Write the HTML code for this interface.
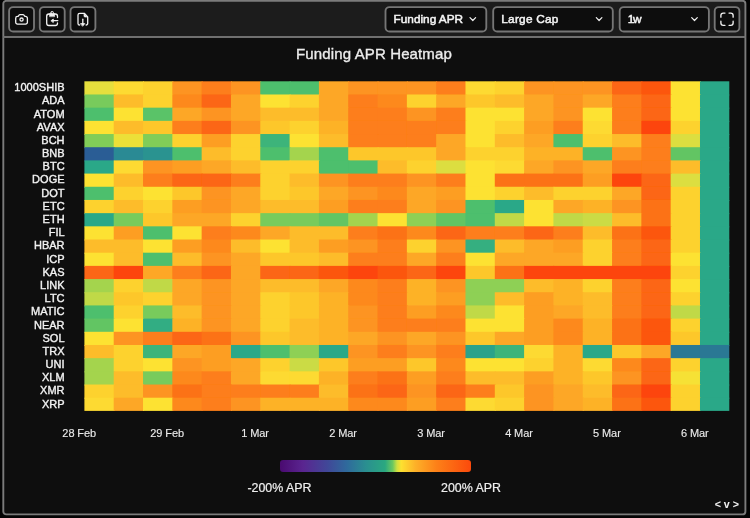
<!DOCTYPE html>
<html lang="en">
<head>
<meta charset="utf-8">
<title>Funding APR Heatmap</title>
<style>
html,body{margin:0;padding:0;}
body{width:750px;height:518px;background:#040404;overflow:hidden;position:relative;font-family:"Liberation Sans",sans-serif;color:#eee;}
.sel{position:absolute;top:6.2px;height:26px;}
.sel span{position:absolute;left:9px;top:0;line-height:26.6px;font-size:11.8px;color:#f4f4f4;letter-spacing:-0.1px;-webkit-text-stroke:0.5px #f4f4f4;white-space:nowrap;}
.title{position:absolute;left:174px;width:400px;top:44.100px;text-align:center;font-size:15px;line-height:20px;color:#ececec;white-space:nowrap;-webkit-text-stroke:0.35px #ececec;letter-spacing:0.13px;}
.yl{position:absolute;left:0;width:64.6px;text-align:right;font-size:11px;line-height:14px;color:#f2f2f2;white-space:nowrap;-webkit-text-stroke:0.38px #f2f2f2;letter-spacing:0.02px;}
.xl{position:absolute;width:60px;text-align:center;top:425.600px;font-size:11px;line-height:14px;color:#ebebeb;white-space:nowrap;letter-spacing:-0.1px;-webkit-text-stroke:0.12px #ebebeb;}
.hm{position:absolute;left:0;top:0;}
.txt{position:absolute;left:0;top:0;width:750px;height:518px;will-change:transform;}
.legend{position:absolute;left:279.8px;top:460.4px;width:191.4px;height:11.8px;border-radius:3px;background:linear-gradient(90deg,#4a0a70 0%,#5a2590 12%,#404898 25%,#2f6a9c 35%,#2a8f90 45%,#2aa880 55%,#6cc860 59%,#d0e040 61.3%,#fde030 63.5%,#fdb028 71%,#fd8018 82%,#fb4a0c 100%);}
.ll{position:absolute;top:480.100px;font-size:12.4px;line-height:16px;color:#efefef;white-space:nowrap;-webkit-text-stroke:0.2px #efefef;}
.sig{position:absolute;left:714.7px;top:497.200px;font-size:10.7px;line-height:14px;font-weight:bold;color:#f0f0f0;letter-spacing:2.9px;white-space:nowrap;}
</style>
</head>
<body>
<svg class="hm" width="750" height="518" viewBox="0 0 750 518" fill="none">
<rect x="3.3" y="0.8" width="742.1" height="513.6" rx="3" fill="#0e0e0e"/>
<path d="M3.3 37V3.800a3 3 0 0 1 3-3h736.100a3 3 0 0 1 3 3V37z" fill="#1c1c1c"/>
<rect x="3.3" y="0.8" width="742.1" height="513.6" rx="3" stroke="#7b7b7b" stroke-width="1.9"/>
<path d="M3.300 37.050H745.400" stroke="#707070" stroke-width="1.9"/>
<g stroke="#767676" stroke-width="1.85" fill="#0d0d0d">
<rect x="9.1" y="7.050" width="24.900" height="24.400" rx="4"/>
<rect x="39.8" y="7.050" width="24.900" height="24.400" rx="4"/>
<rect x="70.5" y="7.050" width="24.900" height="24.400" rx="4"/>
<rect x="385.500" y="7.050" width="100.800" height="24.400" rx="4"/>
<rect x="493.200" y="7.050" width="119.600" height="24.400" rx="4"/>
<rect x="619.700" y="7.050" width="89.200" height="24.400" rx="4"/>
<rect x="714.700" y="7.050" width="24.700" height="24.400" rx="4"/>
</g>
<g stroke="#f2f2f2" stroke-linecap="round" stroke-linejoin="round">
<g stroke-width="1.300"><path d="M17.500 16.400H18.100L19.300 14.900a.8 .8 0 0 1 .6-.3H23.100a.8 .8 0 0 1 .6 .3L24.900 16.400H25.600a1.800 1.800 0 0 1 1.800 1.800V22.300a1.800 1.800 0 0 1-1.800 1.800H17.500a1.800 1.800 0 0 1-1.800-1.800V18.200a1.800 1.800 0 0 1 1.800-1.800z"/><circle cx="21.550" cy="19.600" r="1.600"/></g>
<g stroke-width="1.300"><path d="M57.500 17.600V16.200a2.200 2.200 0 0 0-2.200-2.200H48.900a2.200 2.200 0 0 0-2.200 2.200V23.300a2.200 2.200 0 0 0 2.200 2.200H55.300a2.200 2.200 0 0 0 2.200-2.200V22.900"/><path d="M49.600 16.300V13.700H50.700V12.800a1.400 1.400 0 0 1 2.800 0V13.700H54.600V16.300z" fill="#f2f2f2" stroke-width="0.700"/><circle cx="52.100" cy="12.700" r="0.300" fill="#0d0d0d" stroke="#0d0d0d" stroke-width="0.500"/><path d="M57.800 20.600H52.200"/><path d="M51.200 20.600L53.300 19V22.200z" fill="#f2f2f2" stroke-width="0.800"/></g>
<g stroke-width="1.300"><path d="M79.600 25a1.600 1.600 0 0 1-1.600-1.600V15.100a1.800 1.800 0 0 1 1.800-1.800H84.300L87.700 16.900V23.400a1.600 1.600 0 0 1-1.600 1.600"/><path d="M84 13.800v2.200a1 1 0 0 0 1 1h2.200z" fill="#f2f2f2" stroke-width="0.700"/><path d="M82.800 19.200V24.400"/><path d="M80.800 23.600H84.800L82.800 26z" fill="#f2f2f2" stroke-width="0.800"/></g>
<g transform="translate(718.850,11.050) scale(0.68)" stroke-width="2"><path d="M9 3H6.500a3.500 3.500 0 0 0-3.500 3.500V9"/><path d="M21 9V6.500a3.500 3.500 0 0 0-3.500-3.500H15"/><path d="M3 15v2.500a3.500 3.500 0 0 0 3.500 3.500H9"/><path d="M15 21h2.500a3.500 3.500 0 0 0 3.500-3.500V15"/></g>
<g stroke-width="1.200"><path d="M470 17.700l2.800 2.800 2.800-2.800"/><path d="M596.300 17.700l2.800 2.800 2.800-2.800"/><path d="M691.700 17.700l2.800 2.800 2.800-2.800"/></g>
</g>
</svg>
<div class="txt">
<div class="sel" style="left:384.6px"><span style="letter-spacing:0px">Funding APR</span></div>
<div class="sel" style="left:492.3px"><span style="letter-spacing:0.25px">Large Cap</span></div>
<div class="sel" style="left:618.8px"><span style="letter-spacing:-1.3px">1w</span></div>

<div class="title">Funding APR Heatmap</div>

<svg class="hm" width="750" height="518" viewBox="0 0 750 518">
<defs><filter id="soft" x="-1%" y="-1%" width="102%" height="102%"><feGaussianBlur stdDeviation="0.45"/></filter></defs>
<g filter="url(#soft)">
<rect x="84.40" y="81.30" width="30.31" height="14.18" fill="#e6df3c"/>
<rect x="113.71" y="81.30" width="30.31" height="14.18" fill="#fdda30"/>
<rect x="143.03" y="81.30" width="30.31" height="14.18" fill="#fdd22e"/>
<rect x="172.34" y="81.30" width="30.31" height="14.18" fill="#fd9420"/>
<rect x="201.65" y="81.30" width="30.31" height="14.18" fill="#fd7e1a"/>
<rect x="230.97" y="81.30" width="30.31" height="14.18" fill="#fd9420"/>
<rect x="260.28" y="81.30" width="30.31" height="14.18" fill="#4dbf6d"/>
<rect x="289.60" y="81.30" width="30.31" height="14.18" fill="#4dbf6d"/>
<rect x="318.91" y="81.30" width="30.31" height="14.18" fill="#fda726"/>
<rect x="348.22" y="81.30" width="30.31" height="14.18" fill="#fd9420"/>
<rect x="377.54" y="81.30" width="30.31" height="14.18" fill="#fd9420"/>
<rect x="406.85" y="81.30" width="30.31" height="14.18" fill="#fd9420"/>
<rect x="436.16" y="81.30" width="30.31" height="14.18" fill="#fd7e1a"/>
<rect x="465.48" y="81.30" width="30.31" height="14.18" fill="#fdda30"/>
<rect x="494.79" y="81.30" width="30.31" height="14.18" fill="#fdd22e"/>
<rect x="524.10" y="81.30" width="30.31" height="14.18" fill="#fd9420"/>
<rect x="553.42" y="81.30" width="30.31" height="14.18" fill="#fd9420"/>
<rect x="582.73" y="81.30" width="30.31" height="14.18" fill="#fd9420"/>
<rect x="612.05" y="81.30" width="30.31" height="14.18" fill="#fc6612"/>
<rect x="641.36" y="81.30" width="30.31" height="14.18" fill="#fc560e"/>
<rect x="670.67" y="81.30" width="30.31" height="14.18" fill="#fde232"/>
<rect x="699.99" y="81.30" width="29.31" height="14.18" fill="#2aa888"/>
<rect x="84.40" y="94.48" width="30.31" height="14.18" fill="#78cb5c"/>
<rect x="113.71" y="94.48" width="30.31" height="14.18" fill="#fdbc2a"/>
<rect x="143.03" y="94.48" width="30.31" height="14.18" fill="#fdd22e"/>
<rect x="172.34" y="94.48" width="30.31" height="14.18" fill="#fd891d"/>
<rect x="201.65" y="94.48" width="30.31" height="14.18" fill="#fc6612"/>
<rect x="230.97" y="94.48" width="30.31" height="14.18" fill="#fda726"/>
<rect x="260.28" y="94.48" width="30.31" height="14.18" fill="#fde232"/>
<rect x="289.60" y="94.48" width="30.31" height="14.18" fill="#fdd22e"/>
<rect x="318.91" y="94.48" width="30.31" height="14.18" fill="#fda726"/>
<rect x="348.22" y="94.48" width="30.31" height="14.18" fill="#fd7e1a"/>
<rect x="377.54" y="94.48" width="30.31" height="14.18" fill="#fd891d"/>
<rect x="406.85" y="94.48" width="30.31" height="14.18" fill="#fdd22e"/>
<rect x="436.16" y="94.48" width="30.31" height="14.18" fill="#fda726"/>
<rect x="465.48" y="94.48" width="30.31" height="14.18" fill="#fdc72c"/>
<rect x="494.79" y="94.48" width="30.31" height="14.18" fill="#fdbc2a"/>
<rect x="524.10" y="94.48" width="30.31" height="14.18" fill="#fda726"/>
<rect x="553.42" y="94.48" width="30.31" height="14.18" fill="#fd9420"/>
<rect x="582.73" y="94.48" width="30.31" height="14.18" fill="#fda726"/>
<rect x="612.05" y="94.48" width="30.31" height="14.18" fill="#fd7e1a"/>
<rect x="641.36" y="94.48" width="30.31" height="14.18" fill="#fc6612"/>
<rect x="670.67" y="94.48" width="30.31" height="14.18" fill="#fde232"/>
<rect x="699.99" y="94.48" width="29.31" height="14.18" fill="#2aa888"/>
<rect x="84.40" y="107.67" width="30.31" height="14.18" fill="#4dbf6d"/>
<rect x="113.71" y="107.67" width="30.31" height="14.18" fill="#fde232"/>
<rect x="143.03" y="107.67" width="30.31" height="14.18" fill="#5ac368"/>
<rect x="172.34" y="107.67" width="30.31" height="14.18" fill="#fda726"/>
<rect x="201.65" y="107.67" width="30.31" height="14.18" fill="#fd9420"/>
<rect x="230.97" y="107.67" width="30.31" height="14.18" fill="#fda726"/>
<rect x="260.28" y="107.67" width="30.31" height="14.18" fill="#fdbc2a"/>
<rect x="289.60" y="107.67" width="30.31" height="14.18" fill="#fdbc2a"/>
<rect x="318.91" y="107.67" width="30.31" height="14.18" fill="#fda726"/>
<rect x="348.22" y="107.67" width="30.31" height="14.18" fill="#fd7e1a"/>
<rect x="377.54" y="107.67" width="30.31" height="14.18" fill="#fd7e1a"/>
<rect x="406.85" y="107.67" width="30.31" height="14.18" fill="#fd9420"/>
<rect x="436.16" y="107.67" width="30.31" height="14.18" fill="#fd7e1a"/>
<rect x="465.48" y="107.67" width="30.31" height="14.18" fill="#fde232"/>
<rect x="494.79" y="107.67" width="30.31" height="14.18" fill="#fde232"/>
<rect x="524.10" y="107.67" width="30.31" height="14.18" fill="#fda726"/>
<rect x="553.42" y="107.67" width="30.31" height="14.18" fill="#fd9420"/>
<rect x="582.73" y="107.67" width="30.31" height="14.18" fill="#fde232"/>
<rect x="612.05" y="107.67" width="30.31" height="14.18" fill="#fd7e1a"/>
<rect x="641.36" y="107.67" width="30.31" height="14.18" fill="#fc6612"/>
<rect x="670.67" y="107.67" width="30.31" height="14.18" fill="#fde232"/>
<rect x="699.99" y="107.67" width="29.31" height="14.18" fill="#2aa888"/>
<rect x="84.40" y="120.85" width="30.31" height="14.18" fill="#fde232"/>
<rect x="113.71" y="120.85" width="30.31" height="14.18" fill="#fdbc2a"/>
<rect x="143.03" y="120.85" width="30.31" height="14.18" fill="#fdc72c"/>
<rect x="172.34" y="120.85" width="30.31" height="14.18" fill="#fd7e1a"/>
<rect x="201.65" y="120.85" width="30.31" height="14.18" fill="#fc6612"/>
<rect x="230.97" y="120.85" width="30.31" height="14.18" fill="#fd9420"/>
<rect x="260.28" y="120.85" width="30.31" height="14.18" fill="#fdc72c"/>
<rect x="289.60" y="120.85" width="30.31" height="14.18" fill="#fdd22e"/>
<rect x="318.91" y="120.85" width="30.31" height="14.18" fill="#fdb228"/>
<rect x="348.22" y="120.85" width="30.31" height="14.18" fill="#fd7e1a"/>
<rect x="377.54" y="120.85" width="30.31" height="14.18" fill="#fd7e1a"/>
<rect x="406.85" y="120.85" width="30.31" height="14.18" fill="#fd7e1a"/>
<rect x="436.16" y="120.85" width="30.31" height="14.18" fill="#fd7e1a"/>
<rect x="465.48" y="120.85" width="30.31" height="14.18" fill="#fde232"/>
<rect x="494.79" y="120.85" width="30.31" height="14.18" fill="#fdd22e"/>
<rect x="524.10" y="120.85" width="30.31" height="14.18" fill="#fd9e23"/>
<rect x="553.42" y="120.85" width="30.31" height="14.18" fill="#fd7e1a"/>
<rect x="582.73" y="120.85" width="30.31" height="14.18" fill="#fdda30"/>
<rect x="612.05" y="120.85" width="30.31" height="14.18" fill="#fd7e1a"/>
<rect x="641.36" y="120.85" width="30.31" height="14.18" fill="#fd450a"/>
<rect x="670.67" y="120.85" width="30.31" height="14.18" fill="#fdd22e"/>
<rect x="699.99" y="120.85" width="29.31" height="14.18" fill="#2aa888"/>
<rect x="84.40" y="134.04" width="30.31" height="14.18" fill="#81cd59"/>
<rect x="113.71" y="134.04" width="30.31" height="14.18" fill="#ece039"/>
<rect x="143.03" y="134.04" width="30.31" height="14.18" fill="#81cd59"/>
<rect x="172.34" y="134.04" width="30.31" height="14.18" fill="#fdd22e"/>
<rect x="201.65" y="134.04" width="30.31" height="14.18" fill="#fd9e23"/>
<rect x="230.97" y="134.04" width="30.31" height="14.18" fill="#fdd22e"/>
<rect x="260.28" y="134.04" width="30.31" height="14.18" fill="#3cb47a"/>
<rect x="289.60" y="134.04" width="30.31" height="14.18" fill="#fde232"/>
<rect x="318.91" y="134.04" width="30.31" height="14.18" fill="#fdbc2a"/>
<rect x="348.22" y="134.04" width="30.31" height="14.18" fill="#fd7e1a"/>
<rect x="377.54" y="134.04" width="30.31" height="14.18" fill="#fd7e1a"/>
<rect x="406.85" y="134.04" width="30.31" height="14.18" fill="#fd7e1a"/>
<rect x="436.16" y="134.04" width="30.31" height="14.18" fill="#fda726"/>
<rect x="465.48" y="134.04" width="30.31" height="14.18" fill="#fde232"/>
<rect x="494.79" y="134.04" width="30.31" height="14.18" fill="#fdbc2a"/>
<rect x="524.10" y="134.04" width="30.31" height="14.18" fill="#fda726"/>
<rect x="553.42" y="134.04" width="30.31" height="14.18" fill="#4dbf6d"/>
<rect x="582.73" y="134.04" width="30.31" height="14.18" fill="#fdd22e"/>
<rect x="612.05" y="134.04" width="30.31" height="14.18" fill="#fdbc2a"/>
<rect x="641.36" y="134.04" width="30.31" height="14.18" fill="#fd7e1a"/>
<rect x="670.67" y="134.04" width="30.31" height="14.18" fill="#dcde40"/>
<rect x="699.99" y="134.04" width="29.31" height="14.18" fill="#2aa888"/>
<rect x="84.40" y="147.22" width="30.31" height="14.18" fill="#2c5d95"/>
<rect x="113.71" y="147.22" width="30.31" height="14.18" fill="#2a8a94"/>
<rect x="143.03" y="147.22" width="30.31" height="14.18" fill="#2a9390"/>
<rect x="172.34" y="147.22" width="30.31" height="14.18" fill="#4dbf6d"/>
<rect x="201.65" y="147.22" width="30.31" height="14.18" fill="#fdbc2a"/>
<rect x="230.97" y="147.22" width="30.31" height="14.18" fill="#fdd22e"/>
<rect x="260.28" y="147.22" width="30.31" height="14.18" fill="#4dbf6d"/>
<rect x="289.60" y="147.22" width="30.31" height="14.18" fill="#a4d44e"/>
<rect x="318.91" y="147.22" width="30.31" height="14.18" fill="#4dbf6d"/>
<rect x="348.22" y="147.22" width="30.31" height="14.18" fill="#fdc72c"/>
<rect x="377.54" y="147.22" width="30.31" height="14.18" fill="#fdc72c"/>
<rect x="406.85" y="147.22" width="30.31" height="14.18" fill="#fdc72c"/>
<rect x="436.16" y="147.22" width="30.31" height="14.18" fill="#fda726"/>
<rect x="465.48" y="147.22" width="30.31" height="14.18" fill="#fdd22e"/>
<rect x="494.79" y="147.22" width="30.31" height="14.18" fill="#fdd22e"/>
<rect x="524.10" y="147.22" width="30.31" height="14.18" fill="#fdb228"/>
<rect x="553.42" y="147.22" width="30.31" height="14.18" fill="#fdb228"/>
<rect x="582.73" y="147.22" width="30.31" height="14.18" fill="#4dbf6d"/>
<rect x="612.05" y="147.22" width="30.31" height="14.18" fill="#fd9420"/>
<rect x="641.36" y="147.22" width="30.31" height="14.18" fill="#fd7e1a"/>
<rect x="670.67" y="147.22" width="30.31" height="14.18" fill="#62c564"/>
<rect x="699.99" y="147.22" width="29.31" height="14.18" fill="#2aa888"/>
<rect x="84.40" y="160.40" width="30.31" height="14.18" fill="#2aa888"/>
<rect x="113.71" y="160.40" width="30.31" height="14.18" fill="#fdda30"/>
<rect x="143.03" y="160.40" width="30.31" height="14.18" fill="#fd9420"/>
<rect x="172.34" y="160.40" width="30.31" height="14.18" fill="#fd9e23"/>
<rect x="201.65" y="160.40" width="30.31" height="14.18" fill="#fda726"/>
<rect x="230.97" y="160.40" width="30.31" height="14.18" fill="#fdbc2a"/>
<rect x="260.28" y="160.40" width="30.31" height="14.18" fill="#fdd22e"/>
<rect x="289.60" y="160.40" width="30.31" height="14.18" fill="#fdd22e"/>
<rect x="318.91" y="160.40" width="30.31" height="14.18" fill="#4dbf6d"/>
<rect x="348.22" y="160.40" width="30.31" height="14.18" fill="#4dbf6d"/>
<rect x="377.54" y="160.40" width="30.31" height="14.18" fill="#fdbc2a"/>
<rect x="406.85" y="160.40" width="30.31" height="14.18" fill="#fdd22e"/>
<rect x="436.16" y="160.40" width="30.31" height="14.18" fill="#dcde40"/>
<rect x="465.48" y="160.40" width="30.31" height="14.18" fill="#fde232"/>
<rect x="494.79" y="160.40" width="30.31" height="14.18" fill="#fdda30"/>
<rect x="524.10" y="160.40" width="30.31" height="14.18" fill="#fda726"/>
<rect x="553.42" y="160.40" width="30.31" height="14.18" fill="#fd9420"/>
<rect x="582.73" y="160.40" width="30.31" height="14.18" fill="#fda726"/>
<rect x="612.05" y="160.40" width="30.31" height="14.18" fill="#fd7e1a"/>
<rect x="641.36" y="160.40" width="30.31" height="14.18" fill="#fd7e1a"/>
<rect x="670.67" y="160.40" width="30.31" height="14.18" fill="#fdbc2a"/>
<rect x="699.99" y="160.40" width="29.31" height="14.18" fill="#2aa888"/>
<rect x="84.40" y="173.59" width="30.31" height="14.18" fill="#fde232"/>
<rect x="113.71" y="173.59" width="30.31" height="14.18" fill="#fdbc2a"/>
<rect x="143.03" y="173.59" width="30.31" height="14.18" fill="#fd7e1a"/>
<rect x="172.34" y="173.59" width="30.31" height="14.18" fill="#fc6612"/>
<rect x="201.65" y="173.59" width="30.31" height="14.18" fill="#fc6612"/>
<rect x="230.97" y="173.59" width="30.31" height="14.18" fill="#fd7e1a"/>
<rect x="260.28" y="173.59" width="30.31" height="14.18" fill="#fdd22e"/>
<rect x="289.60" y="173.59" width="30.31" height="14.18" fill="#fdbc2a"/>
<rect x="318.91" y="173.59" width="30.31" height="14.18" fill="#fd9420"/>
<rect x="348.22" y="173.59" width="30.31" height="14.18" fill="#fd7e1a"/>
<rect x="377.54" y="173.59" width="30.31" height="14.18" fill="#fd7e1a"/>
<rect x="406.85" y="173.59" width="30.31" height="14.18" fill="#fd9420"/>
<rect x="436.16" y="173.59" width="30.31" height="14.18" fill="#fd7e1a"/>
<rect x="465.48" y="173.59" width="30.31" height="14.18" fill="#fde232"/>
<rect x="494.79" y="173.59" width="30.31" height="14.18" fill="#fc7216"/>
<rect x="524.10" y="173.59" width="30.31" height="14.18" fill="#fc7216"/>
<rect x="553.42" y="173.59" width="30.31" height="14.18" fill="#fc7216"/>
<rect x="582.73" y="173.59" width="30.31" height="14.18" fill="#fd9e23"/>
<rect x="612.05" y="173.59" width="30.31" height="14.18" fill="#fd450a"/>
<rect x="641.36" y="173.59" width="30.31" height="14.18" fill="#fc6612"/>
<rect x="670.67" y="173.59" width="30.31" height="14.18" fill="#dcde40"/>
<rect x="699.99" y="173.59" width="29.31" height="14.18" fill="#2aa888"/>
<rect x="84.40" y="186.77" width="30.31" height="14.18" fill="#4dbf6d"/>
<rect x="113.71" y="186.77" width="30.31" height="14.18" fill="#fdd22e"/>
<rect x="143.03" y="186.77" width="30.31" height="14.18" fill="#fde232"/>
<rect x="172.34" y="186.77" width="30.31" height="14.18" fill="#fdc72c"/>
<rect x="201.65" y="186.77" width="30.31" height="14.18" fill="#fd9420"/>
<rect x="230.97" y="186.77" width="30.31" height="14.18" fill="#fda726"/>
<rect x="260.28" y="186.77" width="30.31" height="14.18" fill="#fdd22e"/>
<rect x="289.60" y="186.77" width="30.31" height="14.18" fill="#fdc72c"/>
<rect x="318.91" y="186.77" width="30.31" height="14.18" fill="#fda726"/>
<rect x="348.22" y="186.77" width="30.31" height="14.18" fill="#fd9420"/>
<rect x="377.54" y="186.77" width="30.31" height="14.18" fill="#fd891d"/>
<rect x="406.85" y="186.77" width="30.31" height="14.18" fill="#fda726"/>
<rect x="436.16" y="186.77" width="30.31" height="14.18" fill="#fd9e23"/>
<rect x="465.48" y="186.77" width="30.31" height="14.18" fill="#fde232"/>
<rect x="494.79" y="186.77" width="30.31" height="14.18" fill="#fdd22e"/>
<rect x="524.10" y="186.77" width="30.31" height="14.18" fill="#fdbc2a"/>
<rect x="553.42" y="186.77" width="30.31" height="14.18" fill="#fdd22e"/>
<rect x="582.73" y="186.77" width="30.31" height="14.18" fill="#fdd22e"/>
<rect x="612.05" y="186.77" width="30.31" height="14.18" fill="#fda726"/>
<rect x="641.36" y="186.77" width="30.31" height="14.18" fill="#fc6612"/>
<rect x="670.67" y="186.77" width="30.31" height="14.18" fill="#fdd22e"/>
<rect x="699.99" y="186.77" width="29.31" height="14.18" fill="#2aa888"/>
<rect x="84.40" y="199.96" width="30.31" height="14.18" fill="#fdd22e"/>
<rect x="113.71" y="199.96" width="30.31" height="14.18" fill="#fdbc2a"/>
<rect x="143.03" y="199.96" width="30.31" height="14.18" fill="#fdd22e"/>
<rect x="172.34" y="199.96" width="30.31" height="14.18" fill="#fd9e23"/>
<rect x="201.65" y="199.96" width="30.31" height="14.18" fill="#fd9420"/>
<rect x="230.97" y="199.96" width="30.31" height="14.18" fill="#fda726"/>
<rect x="260.28" y="199.96" width="30.31" height="14.18" fill="#fdbc2a"/>
<rect x="289.60" y="199.96" width="30.31" height="14.18" fill="#fdbc2a"/>
<rect x="318.91" y="199.96" width="30.31" height="14.18" fill="#fd9e23"/>
<rect x="348.22" y="199.96" width="30.31" height="14.18" fill="#fd7e1a"/>
<rect x="377.54" y="199.96" width="30.31" height="14.18" fill="#fd7e1a"/>
<rect x="406.85" y="199.96" width="30.31" height="14.18" fill="#fda726"/>
<rect x="436.16" y="199.96" width="30.31" height="14.18" fill="#fd9420"/>
<rect x="465.48" y="199.96" width="30.31" height="14.18" fill="#4dbf6d"/>
<rect x="494.79" y="199.96" width="30.31" height="14.18" fill="#2aa888"/>
<rect x="524.10" y="199.96" width="30.31" height="14.18" fill="#fde232"/>
<rect x="553.42" y="199.96" width="30.31" height="14.18" fill="#fda726"/>
<rect x="582.73" y="199.96" width="30.31" height="14.18" fill="#fdb228"/>
<rect x="612.05" y="199.96" width="30.31" height="14.18" fill="#fd9420"/>
<rect x="641.36" y="199.96" width="30.31" height="14.18" fill="#fc7216"/>
<rect x="670.67" y="199.96" width="30.31" height="14.18" fill="#fdd22e"/>
<rect x="699.99" y="199.96" width="29.31" height="14.18" fill="#2aa888"/>
<rect x="84.40" y="213.14" width="30.31" height="14.18" fill="#2aa888"/>
<rect x="113.71" y="213.14" width="30.31" height="14.18" fill="#78cb5c"/>
<rect x="143.03" y="213.14" width="30.31" height="14.18" fill="#fdc72c"/>
<rect x="172.34" y="213.14" width="30.31" height="14.18" fill="#fda726"/>
<rect x="201.65" y="213.14" width="30.31" height="14.18" fill="#fda726"/>
<rect x="230.97" y="213.14" width="30.31" height="14.18" fill="#fdd22e"/>
<rect x="260.28" y="213.14" width="30.31" height="14.18" fill="#78cb5c"/>
<rect x="289.60" y="213.14" width="30.31" height="14.18" fill="#78cb5c"/>
<rect x="318.91" y="213.14" width="30.31" height="14.18" fill="#62c564"/>
<rect x="348.22" y="213.14" width="30.31" height="14.18" fill="#a4d44e"/>
<rect x="377.54" y="213.14" width="30.31" height="14.18" fill="#fde232"/>
<rect x="406.85" y="213.14" width="30.31" height="14.18" fill="#8ed055"/>
<rect x="436.16" y="213.14" width="30.31" height="14.18" fill="#62c564"/>
<rect x="465.48" y="213.14" width="30.31" height="14.18" fill="#4dbf6d"/>
<rect x="494.79" y="213.14" width="30.31" height="14.18" fill="#c0d947"/>
<rect x="524.10" y="213.14" width="30.31" height="14.18" fill="#fde232"/>
<rect x="553.42" y="213.14" width="30.31" height="14.18" fill="#c0d947"/>
<rect x="582.73" y="213.14" width="30.31" height="14.18" fill="#cbdb44"/>
<rect x="612.05" y="213.14" width="30.31" height="14.18" fill="#fdbc2a"/>
<rect x="641.36" y="213.14" width="30.31" height="14.18" fill="#fc7216"/>
<rect x="670.67" y="213.14" width="30.31" height="14.18" fill="#fdd22e"/>
<rect x="699.99" y="213.14" width="29.31" height="14.18" fill="#2aa888"/>
<rect x="84.40" y="226.32" width="30.31" height="14.18" fill="#fde232"/>
<rect x="113.71" y="226.32" width="30.31" height="14.18" fill="#fd9e23"/>
<rect x="143.03" y="226.32" width="30.31" height="14.18" fill="#4dbf6d"/>
<rect x="172.34" y="226.32" width="30.31" height="14.18" fill="#fde232"/>
<rect x="201.65" y="226.32" width="30.31" height="14.18" fill="#fd7e1a"/>
<rect x="230.97" y="226.32" width="30.31" height="14.18" fill="#fd891d"/>
<rect x="260.28" y="226.32" width="30.31" height="14.18" fill="#fda726"/>
<rect x="289.60" y="226.32" width="30.31" height="14.18" fill="#fdbc2a"/>
<rect x="318.91" y="226.32" width="30.31" height="14.18" fill="#fdbc2a"/>
<rect x="348.22" y="226.32" width="30.31" height="14.18" fill="#fd7e1a"/>
<rect x="377.54" y="226.32" width="30.31" height="14.18" fill="#fc7216"/>
<rect x="406.85" y="226.32" width="30.31" height="14.18" fill="#fd891d"/>
<rect x="436.16" y="226.32" width="30.31" height="14.18" fill="#fc6612"/>
<rect x="465.48" y="226.32" width="30.31" height="14.18" fill="#fd7e1a"/>
<rect x="494.79" y="226.32" width="30.31" height="14.18" fill="#fd7e1a"/>
<rect x="524.10" y="226.32" width="30.31" height="14.18" fill="#fc6612"/>
<rect x="553.42" y="226.32" width="30.31" height="14.18" fill="#fd7e1a"/>
<rect x="582.73" y="226.32" width="30.31" height="14.18" fill="#fdbc2a"/>
<rect x="612.05" y="226.32" width="30.31" height="14.18" fill="#fc7216"/>
<rect x="641.36" y="226.32" width="30.31" height="14.18" fill="#fc560e"/>
<rect x="670.67" y="226.32" width="30.31" height="14.18" fill="#fdd22e"/>
<rect x="699.99" y="226.32" width="29.31" height="14.18" fill="#2aa888"/>
<rect x="84.40" y="239.51" width="30.31" height="14.18" fill="#fdbc2a"/>
<rect x="113.71" y="239.51" width="30.31" height="14.18" fill="#fdbc2a"/>
<rect x="143.03" y="239.51" width="30.31" height="14.18" fill="#fde232"/>
<rect x="172.34" y="239.51" width="30.31" height="14.18" fill="#fd9e23"/>
<rect x="201.65" y="239.51" width="30.31" height="14.18" fill="#fd891d"/>
<rect x="230.97" y="239.51" width="30.31" height="14.18" fill="#fdbc2a"/>
<rect x="260.28" y="239.51" width="30.31" height="14.18" fill="#fde232"/>
<rect x="289.60" y="239.51" width="30.31" height="14.18" fill="#fdbc2a"/>
<rect x="318.91" y="239.51" width="30.31" height="14.18" fill="#fd9e23"/>
<rect x="348.22" y="239.51" width="30.31" height="14.18" fill="#fd9420"/>
<rect x="377.54" y="239.51" width="30.31" height="14.18" fill="#fd7e1a"/>
<rect x="406.85" y="239.51" width="30.31" height="14.18" fill="#fdd22e"/>
<rect x="436.16" y="239.51" width="30.31" height="14.18" fill="#fd9420"/>
<rect x="465.48" y="239.51" width="30.31" height="14.18" fill="#34af80"/>
<rect x="494.79" y="239.51" width="30.31" height="14.18" fill="#fdbc2a"/>
<rect x="524.10" y="239.51" width="30.31" height="14.18" fill="#fda726"/>
<rect x="553.42" y="239.51" width="30.31" height="14.18" fill="#fd9e23"/>
<rect x="582.73" y="239.51" width="30.31" height="14.18" fill="#fdd22e"/>
<rect x="612.05" y="239.51" width="30.31" height="14.18" fill="#fd7e1a"/>
<rect x="641.36" y="239.51" width="30.31" height="14.18" fill="#fc6612"/>
<rect x="670.67" y="239.51" width="30.31" height="14.18" fill="#fdd22e"/>
<rect x="699.99" y="239.51" width="29.31" height="14.18" fill="#2aa888"/>
<rect x="84.40" y="252.69" width="30.31" height="14.18" fill="#fde232"/>
<rect x="113.71" y="252.69" width="30.31" height="14.18" fill="#fdbc2a"/>
<rect x="143.03" y="252.69" width="30.31" height="14.18" fill="#4dbf6d"/>
<rect x="172.34" y="252.69" width="30.31" height="14.18" fill="#fdbc2a"/>
<rect x="201.65" y="252.69" width="30.31" height="14.18" fill="#fd9420"/>
<rect x="230.97" y="252.69" width="30.31" height="14.18" fill="#fda726"/>
<rect x="260.28" y="252.69" width="30.31" height="14.18" fill="#fdc72c"/>
<rect x="289.60" y="252.69" width="30.31" height="14.18" fill="#fdc72c"/>
<rect x="318.91" y="252.69" width="30.31" height="14.18" fill="#fdbc2a"/>
<rect x="348.22" y="252.69" width="30.31" height="14.18" fill="#fd7e1a"/>
<rect x="377.54" y="252.69" width="30.31" height="14.18" fill="#fd7e1a"/>
<rect x="406.85" y="252.69" width="30.31" height="14.18" fill="#fda726"/>
<rect x="436.16" y="252.69" width="30.31" height="14.18" fill="#fd7e1a"/>
<rect x="465.48" y="252.69" width="30.31" height="14.18" fill="#fde232"/>
<rect x="494.79" y="252.69" width="30.31" height="14.18" fill="#fda726"/>
<rect x="524.10" y="252.69" width="30.31" height="14.18" fill="#fda726"/>
<rect x="553.42" y="252.69" width="30.31" height="14.18" fill="#fda726"/>
<rect x="582.73" y="252.69" width="30.31" height="14.18" fill="#fdd22e"/>
<rect x="612.05" y="252.69" width="30.31" height="14.18" fill="#fd7e1a"/>
<rect x="641.36" y="252.69" width="30.31" height="14.18" fill="#fc6612"/>
<rect x="670.67" y="252.69" width="30.31" height="14.18" fill="#fde232"/>
<rect x="699.99" y="252.69" width="29.31" height="14.18" fill="#2aa888"/>
<rect x="84.40" y="265.88" width="30.31" height="14.18" fill="#fc6612"/>
<rect x="113.71" y="265.88" width="30.31" height="14.18" fill="#fd450a"/>
<rect x="143.03" y="265.88" width="30.31" height="14.18" fill="#fda726"/>
<rect x="172.34" y="265.88" width="30.31" height="14.18" fill="#fd7e1a"/>
<rect x="201.65" y="265.88" width="30.31" height="14.18" fill="#fc6612"/>
<rect x="230.97" y="265.88" width="30.31" height="14.18" fill="#fda726"/>
<rect x="260.28" y="265.88" width="30.31" height="14.18" fill="#fc6612"/>
<rect x="289.60" y="265.88" width="30.31" height="14.18" fill="#fc6612"/>
<rect x="318.91" y="265.88" width="30.31" height="14.18" fill="#fc560e"/>
<rect x="348.22" y="265.88" width="30.31" height="14.18" fill="#fd450a"/>
<rect x="377.54" y="265.88" width="30.31" height="14.18" fill="#fc560e"/>
<rect x="406.85" y="265.88" width="30.31" height="14.18" fill="#fc6612"/>
<rect x="436.16" y="265.88" width="30.31" height="14.18" fill="#fd450a"/>
<rect x="465.48" y="265.88" width="30.31" height="14.18" fill="#fdc72c"/>
<rect x="494.79" y="265.88" width="30.31" height="14.18" fill="#fc7216"/>
<rect x="524.10" y="265.88" width="30.31" height="14.18" fill="#fd450a"/>
<rect x="553.42" y="265.88" width="30.31" height="14.18" fill="#fd450a"/>
<rect x="582.73" y="265.88" width="30.31" height="14.18" fill="#fd450a"/>
<rect x="612.05" y="265.88" width="30.31" height="14.18" fill="#fd450a"/>
<rect x="641.36" y="265.88" width="30.31" height="14.18" fill="#fd450a"/>
<rect x="670.67" y="265.88" width="30.31" height="14.18" fill="#fdd22e"/>
<rect x="699.99" y="265.88" width="29.31" height="14.18" fill="#2aa888"/>
<rect x="84.40" y="279.06" width="30.31" height="14.18" fill="#a4d44e"/>
<rect x="113.71" y="279.06" width="30.31" height="14.18" fill="#fdd22e"/>
<rect x="143.03" y="279.06" width="30.31" height="14.18" fill="#c0d947"/>
<rect x="172.34" y="279.06" width="30.31" height="14.18" fill="#fda726"/>
<rect x="201.65" y="279.06" width="30.31" height="14.18" fill="#fd9420"/>
<rect x="230.97" y="279.06" width="30.31" height="14.18" fill="#fda726"/>
<rect x="260.28" y="279.06" width="30.31" height="14.18" fill="#fdbc2a"/>
<rect x="289.60" y="279.06" width="30.31" height="14.18" fill="#fdbc2a"/>
<rect x="318.91" y="279.06" width="30.31" height="14.18" fill="#fda726"/>
<rect x="348.22" y="279.06" width="30.31" height="14.18" fill="#fd891d"/>
<rect x="377.54" y="279.06" width="30.31" height="14.18" fill="#fd7e1a"/>
<rect x="406.85" y="279.06" width="30.31" height="14.18" fill="#fdb228"/>
<rect x="436.16" y="279.06" width="30.31" height="14.18" fill="#fd9420"/>
<rect x="465.48" y="279.06" width="30.31" height="14.18" fill="#8ed055"/>
<rect x="494.79" y="279.06" width="30.31" height="14.18" fill="#8ed055"/>
<rect x="524.10" y="279.06" width="30.31" height="14.18" fill="#fdbc2a"/>
<rect x="553.42" y="279.06" width="30.31" height="14.18" fill="#fdb228"/>
<rect x="582.73" y="279.06" width="30.31" height="14.18" fill="#fdd22e"/>
<rect x="612.05" y="279.06" width="30.31" height="14.18" fill="#fd7e1a"/>
<rect x="641.36" y="279.06" width="30.31" height="14.18" fill="#fc6612"/>
<rect x="670.67" y="279.06" width="30.31" height="14.18" fill="#fde232"/>
<rect x="699.99" y="279.06" width="29.31" height="14.18" fill="#2aa888"/>
<rect x="84.40" y="292.24" width="30.31" height="14.18" fill="#c0d947"/>
<rect x="113.71" y="292.24" width="30.31" height="14.18" fill="#fdc72c"/>
<rect x="143.03" y="292.24" width="30.31" height="14.18" fill="#fdd22e"/>
<rect x="172.34" y="292.24" width="30.31" height="14.18" fill="#fda726"/>
<rect x="201.65" y="292.24" width="30.31" height="14.18" fill="#fd9420"/>
<rect x="230.97" y="292.24" width="30.31" height="14.18" fill="#fda726"/>
<rect x="260.28" y="292.24" width="30.31" height="14.18" fill="#fdd22e"/>
<rect x="289.60" y="292.24" width="30.31" height="14.18" fill="#fdc72c"/>
<rect x="318.91" y="292.24" width="30.31" height="14.18" fill="#fdb228"/>
<rect x="348.22" y="292.24" width="30.31" height="14.18" fill="#fd891d"/>
<rect x="377.54" y="292.24" width="30.31" height="14.18" fill="#fd7e1a"/>
<rect x="406.85" y="292.24" width="30.31" height="14.18" fill="#fdb228"/>
<rect x="436.16" y="292.24" width="30.31" height="14.18" fill="#fd9e23"/>
<rect x="465.48" y="292.24" width="30.31" height="14.18" fill="#8ed055"/>
<rect x="494.79" y="292.24" width="30.31" height="14.18" fill="#fdbc2a"/>
<rect x="524.10" y="292.24" width="30.31" height="14.18" fill="#fd9e23"/>
<rect x="553.42" y="292.24" width="30.31" height="14.18" fill="#fdb228"/>
<rect x="582.73" y="292.24" width="30.31" height="14.18" fill="#fdbc2a"/>
<rect x="612.05" y="292.24" width="30.31" height="14.18" fill="#fd7e1a"/>
<rect x="641.36" y="292.24" width="30.31" height="14.18" fill="#fc6612"/>
<rect x="670.67" y="292.24" width="30.31" height="14.18" fill="#fdd22e"/>
<rect x="699.99" y="292.24" width="29.31" height="14.18" fill="#2aa888"/>
<rect x="84.40" y="305.43" width="30.31" height="14.18" fill="#4dbf6d"/>
<rect x="113.71" y="305.43" width="30.31" height="14.18" fill="#fdd22e"/>
<rect x="143.03" y="305.43" width="30.31" height="14.18" fill="#78cb5c"/>
<rect x="172.34" y="305.43" width="30.31" height="14.18" fill="#fdbc2a"/>
<rect x="201.65" y="305.43" width="30.31" height="14.18" fill="#fd9420"/>
<rect x="230.97" y="305.43" width="30.31" height="14.18" fill="#fda726"/>
<rect x="260.28" y="305.43" width="30.31" height="14.18" fill="#fdd22e"/>
<rect x="289.60" y="305.43" width="30.31" height="14.18" fill="#fdc72c"/>
<rect x="318.91" y="305.43" width="30.31" height="14.18" fill="#fdb228"/>
<rect x="348.22" y="305.43" width="30.31" height="14.18" fill="#fd9420"/>
<rect x="377.54" y="305.43" width="30.31" height="14.18" fill="#fd7e1a"/>
<rect x="406.85" y="305.43" width="30.31" height="14.18" fill="#fd9e23"/>
<rect x="436.16" y="305.43" width="30.31" height="14.18" fill="#fd891d"/>
<rect x="465.48" y="305.43" width="30.31" height="14.18" fill="#c0d947"/>
<rect x="494.79" y="305.43" width="30.31" height="14.18" fill="#fde232"/>
<rect x="524.10" y="305.43" width="30.31" height="14.18" fill="#fd9e23"/>
<rect x="553.42" y="305.43" width="30.31" height="14.18" fill="#fda726"/>
<rect x="582.73" y="305.43" width="30.31" height="14.18" fill="#fdbc2a"/>
<rect x="612.05" y="305.43" width="30.31" height="14.18" fill="#fd7e1a"/>
<rect x="641.36" y="305.43" width="30.31" height="14.18" fill="#fc6612"/>
<rect x="670.67" y="305.43" width="30.31" height="14.18" fill="#c0d947"/>
<rect x="699.99" y="305.43" width="29.31" height="14.18" fill="#2aa888"/>
<rect x="84.40" y="318.61" width="30.31" height="14.18" fill="#62c564"/>
<rect x="113.71" y="318.61" width="30.31" height="14.18" fill="#fde232"/>
<rect x="143.03" y="318.61" width="30.31" height="14.18" fill="#31ad83"/>
<rect x="172.34" y="318.61" width="30.31" height="14.18" fill="#fdb228"/>
<rect x="201.65" y="318.61" width="30.31" height="14.18" fill="#fd9420"/>
<rect x="230.97" y="318.61" width="30.31" height="14.18" fill="#fda726"/>
<rect x="260.28" y="318.61" width="30.31" height="14.18" fill="#fdd22e"/>
<rect x="289.60" y="318.61" width="30.31" height="14.18" fill="#fdbc2a"/>
<rect x="318.91" y="318.61" width="30.31" height="14.18" fill="#fdb228"/>
<rect x="348.22" y="318.61" width="30.31" height="14.18" fill="#fd9420"/>
<rect x="377.54" y="318.61" width="30.31" height="14.18" fill="#fd7e1a"/>
<rect x="406.85" y="318.61" width="30.31" height="14.18" fill="#fd7e1a"/>
<rect x="436.16" y="318.61" width="30.31" height="14.18" fill="#fd7e1a"/>
<rect x="465.48" y="318.61" width="30.31" height="14.18" fill="#fde232"/>
<rect x="494.79" y="318.61" width="30.31" height="14.18" fill="#fde232"/>
<rect x="524.10" y="318.61" width="30.31" height="14.18" fill="#fd9e23"/>
<rect x="553.42" y="318.61" width="30.31" height="14.18" fill="#fd891d"/>
<rect x="582.73" y="318.61" width="30.31" height="14.18" fill="#fdb228"/>
<rect x="612.05" y="318.61" width="30.31" height="14.18" fill="#fc7216"/>
<rect x="641.36" y="318.61" width="30.31" height="14.18" fill="#fc560e"/>
<rect x="670.67" y="318.61" width="30.31" height="14.18" fill="#fdd22e"/>
<rect x="699.99" y="318.61" width="29.31" height="14.18" fill="#2aa888"/>
<rect x="84.40" y="331.80" width="30.31" height="14.18" fill="#fde232"/>
<rect x="113.71" y="331.80" width="30.31" height="14.18" fill="#fd9420"/>
<rect x="143.03" y="331.80" width="30.31" height="14.18" fill="#fd7e1a"/>
<rect x="172.34" y="331.80" width="30.31" height="14.18" fill="#fc6612"/>
<rect x="201.65" y="331.80" width="30.31" height="14.18" fill="#fc7216"/>
<rect x="230.97" y="331.80" width="30.31" height="14.18" fill="#fd9420"/>
<rect x="260.28" y="331.80" width="30.31" height="14.18" fill="#fdc72c"/>
<rect x="289.60" y="331.80" width="30.31" height="14.18" fill="#fdbc2a"/>
<rect x="318.91" y="331.80" width="30.31" height="14.18" fill="#fdb228"/>
<rect x="348.22" y="331.80" width="30.31" height="14.18" fill="#fda726"/>
<rect x="377.54" y="331.80" width="30.31" height="14.18" fill="#fd9420"/>
<rect x="406.85" y="331.80" width="30.31" height="14.18" fill="#fda726"/>
<rect x="436.16" y="331.80" width="30.31" height="14.18" fill="#fd9420"/>
<rect x="465.48" y="331.80" width="30.31" height="14.18" fill="#fdc72c"/>
<rect x="494.79" y="331.80" width="30.31" height="14.18" fill="#fda726"/>
<rect x="524.10" y="331.80" width="30.31" height="14.18" fill="#fd9e23"/>
<rect x="553.42" y="331.80" width="30.31" height="14.18" fill="#fd891d"/>
<rect x="582.73" y="331.80" width="30.31" height="14.18" fill="#fdb228"/>
<rect x="612.05" y="331.80" width="30.31" height="14.18" fill="#fc7216"/>
<rect x="641.36" y="331.80" width="30.31" height="14.18" fill="#fc560e"/>
<rect x="670.67" y="331.80" width="30.31" height="14.18" fill="#fdc72c"/>
<rect x="699.99" y="331.80" width="29.31" height="14.18" fill="#2aa888"/>
<rect x="84.40" y="344.98" width="30.31" height="14.18" fill="#fdbc2a"/>
<rect x="113.71" y="344.98" width="30.31" height="14.18" fill="#fdd22e"/>
<rect x="143.03" y="344.98" width="30.31" height="14.18" fill="#3cb47a"/>
<rect x="172.34" y="344.98" width="30.31" height="14.18" fill="#fda726"/>
<rect x="201.65" y="344.98" width="30.31" height="14.18" fill="#fd9e23"/>
<rect x="230.97" y="344.98" width="30.31" height="14.18" fill="#2aa888"/>
<rect x="260.28" y="344.98" width="30.31" height="14.18" fill="#4dbf6d"/>
<rect x="289.60" y="344.98" width="30.31" height="14.18" fill="#8ed055"/>
<rect x="318.91" y="344.98" width="30.31" height="14.18" fill="#2aa888"/>
<rect x="348.22" y="344.98" width="30.31" height="14.18" fill="#fd9420"/>
<rect x="377.54" y="344.98" width="30.31" height="14.18" fill="#fd7e1a"/>
<rect x="406.85" y="344.98" width="30.31" height="14.18" fill="#fd9420"/>
<rect x="436.16" y="344.98" width="30.31" height="14.18" fill="#fd7e1a"/>
<rect x="465.48" y="344.98" width="30.31" height="14.18" fill="#2aa28a"/>
<rect x="494.79" y="344.98" width="30.31" height="14.18" fill="#3cb47a"/>
<rect x="524.10" y="344.98" width="30.31" height="14.18" fill="#fdda30"/>
<rect x="553.42" y="344.98" width="30.31" height="14.18" fill="#fdb228"/>
<rect x="582.73" y="344.98" width="30.31" height="14.18" fill="#2aa888"/>
<rect x="612.05" y="344.98" width="30.31" height="14.18" fill="#fdc72c"/>
<rect x="641.36" y="344.98" width="30.31" height="14.18" fill="#fda726"/>
<rect x="670.67" y="344.98" width="30.31" height="14.18" fill="#2b7894"/>
<rect x="699.99" y="344.98" width="29.31" height="14.18" fill="#2b7894"/>
<rect x="84.40" y="358.16" width="30.31" height="14.18" fill="#a4d44e"/>
<rect x="113.71" y="358.16" width="30.31" height="14.18" fill="#fdd22e"/>
<rect x="143.03" y="358.16" width="30.31" height="14.18" fill="#fde232"/>
<rect x="172.34" y="358.16" width="30.31" height="14.18" fill="#fd9420"/>
<rect x="201.65" y="358.16" width="30.31" height="14.18" fill="#fd9e23"/>
<rect x="230.97" y="358.16" width="30.31" height="14.18" fill="#fda726"/>
<rect x="260.28" y="358.16" width="30.31" height="14.18" fill="#fdd22e"/>
<rect x="289.60" y="358.16" width="30.31" height="14.18" fill="#cbdb44"/>
<rect x="318.91" y="358.16" width="30.31" height="14.18" fill="#fdc72c"/>
<rect x="348.22" y="358.16" width="30.31" height="14.18" fill="#fd9e23"/>
<rect x="377.54" y="358.16" width="30.31" height="14.18" fill="#fd9e23"/>
<rect x="406.85" y="358.16" width="30.31" height="14.18" fill="#fdc72c"/>
<rect x="436.16" y="358.16" width="30.31" height="14.18" fill="#fd891d"/>
<rect x="465.48" y="358.16" width="30.31" height="14.18" fill="#fde232"/>
<rect x="494.79" y="358.16" width="30.31" height="14.18" fill="#fde232"/>
<rect x="524.10" y="358.16" width="30.31" height="14.18" fill="#fdd22e"/>
<rect x="553.42" y="358.16" width="30.31" height="14.18" fill="#fdb228"/>
<rect x="582.73" y="358.16" width="30.31" height="14.18" fill="#fdda30"/>
<rect x="612.05" y="358.16" width="30.31" height="14.18" fill="#fd891d"/>
<rect x="641.36" y="358.16" width="30.31" height="14.18" fill="#fc6612"/>
<rect x="670.67" y="358.16" width="30.31" height="14.18" fill="#fdd22e"/>
<rect x="699.99" y="358.16" width="29.31" height="14.18" fill="#2aa888"/>
<rect x="84.40" y="371.35" width="30.31" height="14.18" fill="#a4d44e"/>
<rect x="113.71" y="371.35" width="30.31" height="14.18" fill="#fdbc2a"/>
<rect x="143.03" y="371.35" width="30.31" height="14.18" fill="#78cb5c"/>
<rect x="172.34" y="371.35" width="30.31" height="14.18" fill="#fd891d"/>
<rect x="201.65" y="371.35" width="30.31" height="14.18" fill="#fd7e1a"/>
<rect x="230.97" y="371.35" width="30.31" height="14.18" fill="#fda726"/>
<rect x="260.28" y="371.35" width="30.31" height="14.18" fill="#fdda30"/>
<rect x="289.60" y="371.35" width="30.31" height="14.18" fill="#fdda30"/>
<rect x="318.91" y="371.35" width="30.31" height="14.18" fill="#fdb228"/>
<rect x="348.22" y="371.35" width="30.31" height="14.18" fill="#fd7e1a"/>
<rect x="377.54" y="371.35" width="30.31" height="14.18" fill="#fc7216"/>
<rect x="406.85" y="371.35" width="30.31" height="14.18" fill="#fd9e23"/>
<rect x="436.16" y="371.35" width="30.31" height="14.18" fill="#fd7e1a"/>
<rect x="465.48" y="371.35" width="30.31" height="14.18" fill="#fdbc2a"/>
<rect x="494.79" y="371.35" width="30.31" height="14.18" fill="#fdbc2a"/>
<rect x="524.10" y="371.35" width="30.31" height="14.18" fill="#fd9e23"/>
<rect x="553.42" y="371.35" width="30.31" height="14.18" fill="#fdb228"/>
<rect x="582.73" y="371.35" width="30.31" height="14.18" fill="#fdc72c"/>
<rect x="612.05" y="371.35" width="30.31" height="14.18" fill="#fd9420"/>
<rect x="641.36" y="371.35" width="30.31" height="14.18" fill="#fc6612"/>
<rect x="670.67" y="371.35" width="30.31" height="14.18" fill="#f6e135"/>
<rect x="699.99" y="371.35" width="29.31" height="14.18" fill="#2aa888"/>
<rect x="84.40" y="384.53" width="30.31" height="14.18" fill="#fdd22e"/>
<rect x="113.71" y="384.53" width="30.31" height="14.18" fill="#fdbc2a"/>
<rect x="143.03" y="384.53" width="30.31" height="14.18" fill="#fd9420"/>
<rect x="172.34" y="384.53" width="30.31" height="14.18" fill="#fc7216"/>
<rect x="201.65" y="384.53" width="30.31" height="14.18" fill="#fd7e1a"/>
<rect x="230.97" y="384.53" width="30.31" height="14.18" fill="#fd7e1a"/>
<rect x="260.28" y="384.53" width="30.31" height="14.18" fill="#fd7e1a"/>
<rect x="289.60" y="384.53" width="30.31" height="14.18" fill="#fd7e1a"/>
<rect x="318.91" y="384.53" width="30.31" height="14.18" fill="#fdbc2a"/>
<rect x="348.22" y="384.53" width="30.31" height="14.18" fill="#fc7216"/>
<rect x="377.54" y="384.53" width="30.31" height="14.18" fill="#fc6612"/>
<rect x="406.85" y="384.53" width="30.31" height="14.18" fill="#fd9420"/>
<rect x="436.16" y="384.53" width="30.31" height="14.18" fill="#fc6612"/>
<rect x="465.48" y="384.53" width="30.31" height="14.18" fill="#fd7e1a"/>
<rect x="494.79" y="384.53" width="30.31" height="14.18" fill="#fdc72c"/>
<rect x="524.10" y="384.53" width="30.31" height="14.18" fill="#fd9420"/>
<rect x="553.42" y="384.53" width="30.31" height="14.18" fill="#fda726"/>
<rect x="582.73" y="384.53" width="30.31" height="14.18" fill="#fdbc2a"/>
<rect x="612.05" y="384.53" width="30.31" height="14.18" fill="#fc6612"/>
<rect x="641.36" y="384.53" width="30.31" height="14.18" fill="#fd450a"/>
<rect x="670.67" y="384.53" width="30.31" height="14.18" fill="#fdd22e"/>
<rect x="699.99" y="384.53" width="29.31" height="14.18" fill="#2aa888"/>
<rect x="84.40" y="397.72" width="30.31" height="13.18" fill="#fdda30"/>
<rect x="113.71" y="397.72" width="30.31" height="13.18" fill="#fda726"/>
<rect x="143.03" y="397.72" width="30.31" height="13.18" fill="#fde232"/>
<rect x="172.34" y="397.72" width="30.31" height="13.18" fill="#fd891d"/>
<rect x="201.65" y="397.72" width="30.31" height="13.18" fill="#fd7e1a"/>
<rect x="230.97" y="397.72" width="30.31" height="13.18" fill="#fd9420"/>
<rect x="260.28" y="397.72" width="30.31" height="13.18" fill="#fdb228"/>
<rect x="289.60" y="397.72" width="30.31" height="13.18" fill="#fdb228"/>
<rect x="318.91" y="397.72" width="30.31" height="13.18" fill="#fdb228"/>
<rect x="348.22" y="397.72" width="30.31" height="13.18" fill="#fd891d"/>
<rect x="377.54" y="397.72" width="30.31" height="13.18" fill="#fd891d"/>
<rect x="406.85" y="397.72" width="30.31" height="13.18" fill="#fd9e23"/>
<rect x="436.16" y="397.72" width="30.31" height="13.18" fill="#fd7e1a"/>
<rect x="465.48" y="397.72" width="30.31" height="13.18" fill="#fdda30"/>
<rect x="494.79" y="397.72" width="30.31" height="13.18" fill="#fdd22e"/>
<rect x="524.10" y="397.72" width="30.31" height="13.18" fill="#fd9420"/>
<rect x="553.42" y="397.72" width="30.31" height="13.18" fill="#fda726"/>
<rect x="582.73" y="397.72" width="30.31" height="13.18" fill="#fdb228"/>
<rect x="612.05" y="397.72" width="30.31" height="13.18" fill="#fc7216"/>
<rect x="641.36" y="397.72" width="30.31" height="13.18" fill="#fc560e"/>
<rect x="670.67" y="397.72" width="30.31" height="13.18" fill="#fdd22e"/>
<rect x="699.99" y="397.72" width="29.31" height="13.18" fill="#2aa888"/>
</g>
</svg>

<div class="yl" style="top:80.19px">1000SHIB</div>
<div class="yl" style="top:93.38px">ADA</div>
<div class="yl" style="top:106.56px">ATOM</div>
<div class="yl" style="top:119.74px">AVAX</div>
<div class="yl" style="top:132.93px">BCH</div>
<div class="yl" style="top:146.11px">BNB</div>
<div class="yl" style="top:159.30px">BTC</div>
<div class="yl" style="top:172.48px">DOGE</div>
<div class="yl" style="top:185.66px">DOT</div>
<div class="yl" style="top:198.85px">ETC</div>
<div class="yl" style="top:212.03px">ETH</div>
<div class="yl" style="top:225.22px">FIL</div>
<div class="yl" style="top:238.40px">HBAR</div>
<div class="yl" style="top:251.58px">ICP</div>
<div class="yl" style="top:264.77px">KAS</div>
<div class="yl" style="top:277.95px">LINK</div>
<div class="yl" style="top:291.14px">LTC</div>
<div class="yl" style="top:304.32px">MATIC</div>
<div class="yl" style="top:317.50px">NEAR</div>
<div class="yl" style="top:330.69px">SOL</div>
<div class="yl" style="top:343.87px">TRX</div>
<div class="yl" style="top:357.06px">UNI</div>
<div class="yl" style="top:370.24px">XLM</div>
<div class="yl" style="top:383.42px">XMR</div>
<div class="yl" style="top:396.61px">XRP</div>
<div class="xl" style="left:49.20px">28 Feb</div>
<div class="xl" style="left:137.15px">29 Feb</div>
<div class="xl" style="left:225.10px">1 Mar</div>
<div class="xl" style="left:313.05px">2 Mar</div>
<div class="xl" style="left:401.00px">3 Mar</div>
<div class="xl" style="left:488.95px">4 Mar</div>
<div class="xl" style="left:576.90px">5 Mar</div>
<div class="xl" style="left:664.85px">6 Mar</div>

<div class="legend"></div>
<div class="ll" style="left:247.4px">-200% APR</div>
<div class="ll" style="left:441px">200% APR</div>
<div class="sig">&lt;v&gt;</div>
</div>
</body>
</html>
